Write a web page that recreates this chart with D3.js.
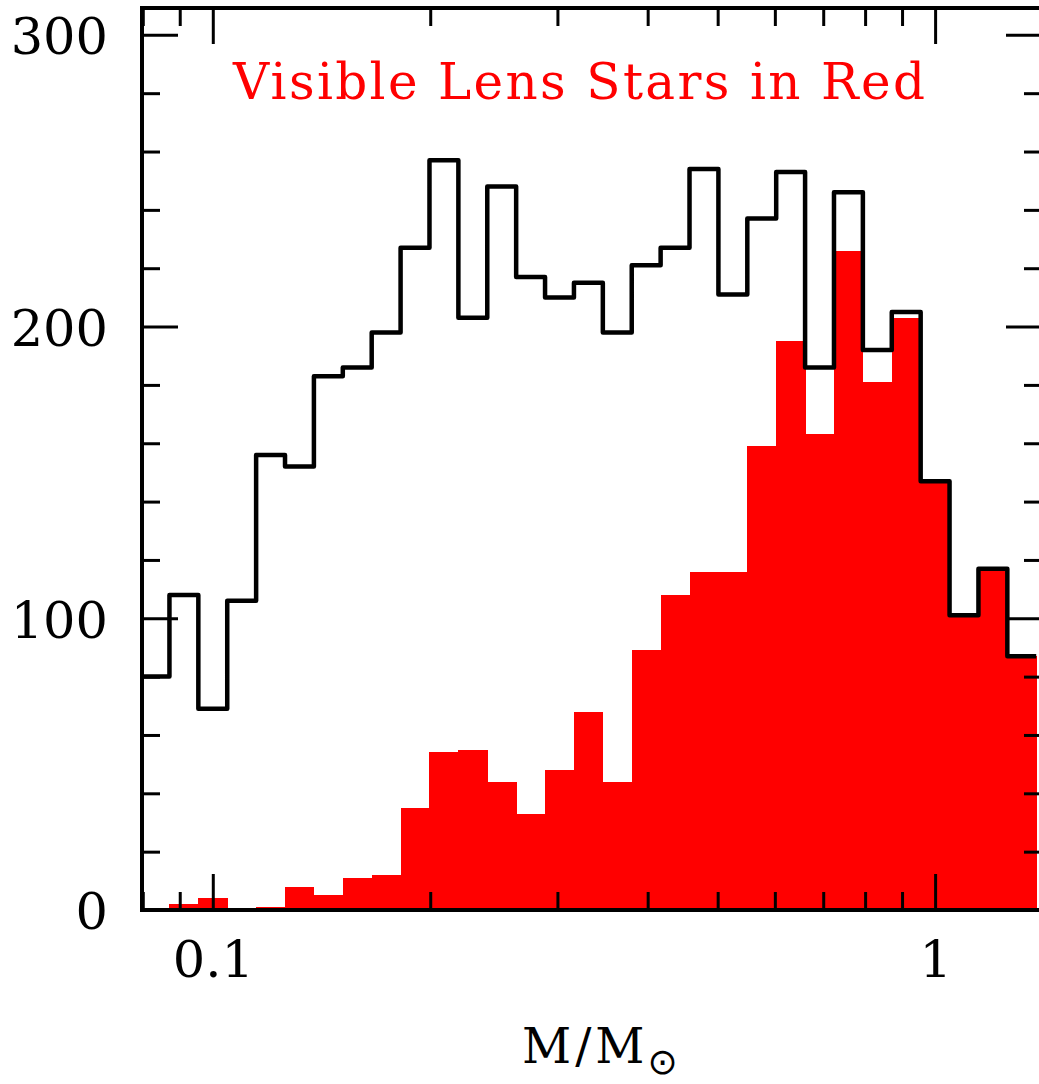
<!DOCTYPE html>
<html>
<head>
<meta charset="utf-8">
<script src="https://cdn.jsdelivr.net/npm/d3@7"></script>
<style>
  html, body { margin: 0; padding: 0; background: #fff; }
  svg { display: block; }
  text { font-family: "DejaVu Serif", "Liberation Serif", serif; }
</style>
</head>
<body>
<svg id="chart" width="1039" height="1084"></svg>
<script>
// ---- data ----
// histogram bin edges in log10(M/Msun)
const logMassEdges = [-1.10,-1.06,-1.02,-0.98,-0.94,-0.90,-0.86,-0.82,-0.78,-0.74,-0.70,
  -0.66,-0.62,-0.58,-0.54,-0.50,-0.46,-0.42,-0.38,-0.34,-0.30,-0.26,-0.22,-0.18,-0.14,
  -0.10,-0.06,-0.02,0.02,0.06,0.10,0.14];
// all lens stars (black outline histogram)
const allLenses = [80,108,69,106,156,152,183,186,198,227,257,203,248,217,210,215,198,
  221,227,254,211,237,253,186,246,192,205,147,101,117,87];
// visible lens stars (red filled histogram)
const visibleLenses = [0,2,4,0,1,8,5,11,12,35,54,55,44,33,48,68,44,89,108,116,116,159,
  195,163,226,181,203,147,101,117,87];
// axis ticks
const xMajorTicks = [0.1, 1];
const xMinorTicks = [0.08, 0.09, 0.2, 0.3, 0.4, 0.5, 0.6, 0.7, 0.8, 0.9];
const yMajorTicks = [0, 100, 200, 300];
const yMinorTicks = [20,40,60,80,120,140,160,180,220,240,260,280];
const xTickLabels = ["0.1", "1"];
const titleText = "Visible Lens Stars in Red";

// ---- layout ----
const L = 142, R = 1042, T = 8, B = 910;
const svg = d3.select("#chart");

const x = d3.scaleLog().domain([0.0798, 1.406]).range([L, R]);
const y = d3.scaleLinear().domain([0, 309.2]).range([B, T]);

svg.append("defs").append("clipPath").attr("id", "plotclip")
  .append("rect").attr("x", L).attr("y", T).attr("width", R - L).attr("height", B - T);

const plot = svg.append("g").attr("clip-path", "url(#plotclip)");

const bins = allLenses.map((v, i) => ({
  x0: Math.pow(10, logMassEdges[i]),
  x1: Math.pow(10, logMassEdges[i + 1]),
  all: v,
  vis: visibleLenses[i]
}));

// red filled histogram
plot.selectAll("rect.vis").data(bins).join("rect")
  .attr("class", "vis")
  .attr("x", d => x(d.x0))
  .attr("width", d => x(d.x1) - x(d.x0) + 0.5)
  .attr("y", d => y(d.vis))
  .attr("height", d => y(0) - y(d.vis))
  .attr("fill", "#ff0000")
  .attr("shape-rendering", "crispEdges");

// black step outline
const stepPts = bins.map(d => [d.x0, d.all]);
stepPts.push([bins[bins.length - 1].x1, bins[bins.length - 1].all]);
plot.append("path")
  .datum(stepPts)
  .attr("d", d3.line().x(d => x(d[0])).y(d => y(d[1])).curve(d3.curveStepAfter))
  .attr("fill", "none")
  .attr("stroke", "#000")
  .attr("stroke-width", 4.5)
  .attr("stroke-linejoin", "round");

// ---- axes ----
function styleAxis(g) {
  g.select(".domain").remove();
  g.selectAll(".tick line").attr("stroke", "#000").attr("stroke-width", 3);
  g.selectAll(".tick text").attr("fill", "#000")
    .style("font-family", "'DejaVu Serif', serif").style("font-size", "51px");
}
const fmtX = d => xTickLabels[xMajorTicks.indexOf(d)];

// bottom
svg.append("g").attr("transform", `translate(0,${B})`)
  .call(d3.axisBottom(x).tickValues(xMajorTicks).tickFormat(fmtX).tickSize(-36).tickSizeOuter(0).tickPadding(31))
  .call(styleAxis);
svg.append("g").attr("transform", `translate(0,${B})`)
  .call(d3.axisBottom(x).tickValues(xMinorTicks).tickFormat("").tickSize(-18).tickSizeOuter(0))
  .call(styleAxis);
// top
svg.append("g").attr("transform", `translate(0,${T})`)
  .call(d3.axisTop(x).tickValues(xMajorTicks).tickFormat("").tickSize(-36).tickSizeOuter(0))
  .call(styleAxis);
svg.append("g").attr("transform", `translate(0,${T})`)
  .call(d3.axisTop(x).tickValues(xMinorTicks).tickFormat("").tickSize(-18).tickSizeOuter(0))
  .call(styleAxis);
// left
svg.append("g").attr("transform", `translate(${L},0)`)
  .call(d3.axisLeft(y).tickValues(yMajorTicks).tickFormat(d3.format("d")).tickSize(-36).tickSizeOuter(0).tickPadding(34))
  .call(styleAxis)
  .call(g => g.selectAll(".tick text").attr("dy", "0.37em"));
svg.append("g").attr("transform", `translate(${L},0)`)
  .call(d3.axisLeft(y).tickValues(yMinorTicks).tickFormat("").tickSize(-18).tickSizeOuter(0))
  .call(styleAxis);
// right
svg.append("g").attr("transform", `translate(${R},0)`)
  .call(d3.axisRight(y).tickValues(yMajorTicks).tickFormat("").tickSize(-36).tickSizeOuter(0))
  .call(styleAxis);
svg.append("g").attr("transform", `translate(${R},0)`)
  .call(d3.axisRight(y).tickValues(yMinorTicks).tickFormat("").tickSize(-18).tickSizeOuter(0))
  .call(styleAxis);

// frame
svg.append("rect")
  .attr("x", L).attr("y", T).attr("width", R - L).attr("height", B - T)
  .attr("fill", "none").attr("stroke", "#000").attr("stroke-width", 4);

// title inside plot
svg.append("text")
  .attr("x", 233).attr("y", 99)
  .attr("textLength", 692).attr("lengthAdjust", "spacing")
  .attr("fill", "#ff0000")
  .style("font-size", "50px")
  .text(titleText);

// x axis label M/M_sun
const xl = svg.append("text")
  .attr("x", 522).attr("y", 1063)
  .attr("fill", "#000")
  .style("font-size", "48px")
  .style("letter-spacing", "4px");
xl.append("tspan").text("M/M");
xl.append("tspan").attr("dy", 11).attr("dx", -1)
  .style("font-family", "'DejaVu Sans', sans-serif")
  .style("font-size", "36px")
  .style("letter-spacing", "0px")
  .text("⊙");
</script>
</body>
</html>
